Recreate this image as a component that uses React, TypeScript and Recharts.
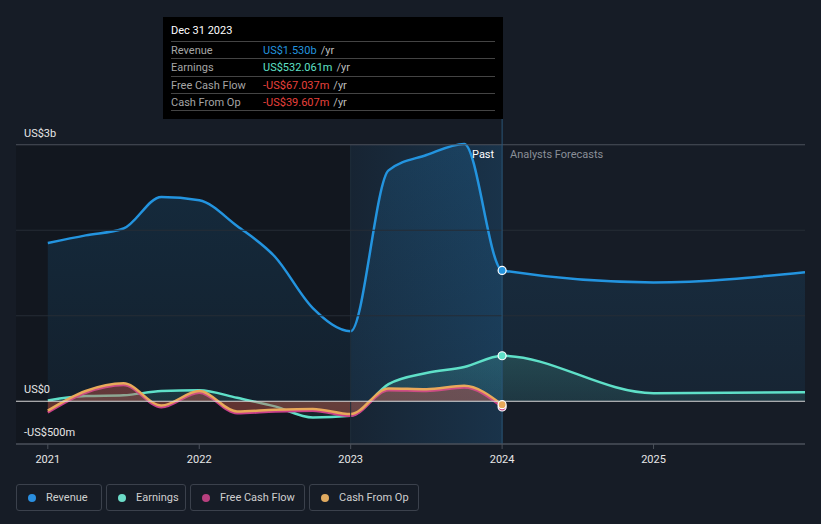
import React from 'react';
import {
  ComposedChart, Area, XAxis, YAxis, ReferenceLine, ReferenceArea,
} from 'recharts';

const periods = [2021, 2021.25, 2021.5, 2021.75, 2022, 2022.25, 2022.5, 2022.75, 2023, 2023.25, 2023.5, 2023.75, 2024, 2025, 2026];
const revenue = [1.85, 1.94, 2.02, 2.39, 2.35, 2.05, 1.69, 1.09, 0.82, 2.70, 2.88, 3.01, 1.53, 1.39, 1.51];
const earnings = [0.01, 0.06, 0.07, 0.12, 0.13, 0.04, -0.06, -0.19, -0.17, 0.2, 0.33, 0.4, 0.532, 0.095, 0.105];
const freeCashFlow = [-0.13, 0.1, 0.19, -0.07, 0.1, -0.14, -0.12, -0.11, -0.17, 0.13, 0.12, 0.16, -0.067, null, null];
const cashFromOp = [-0.11, 0.12, 0.21, -0.05, 0.12, -0.12, -0.1, -0.09, -0.15, 0.15, 0.14, 0.18, -0.04, null, null];

const xTicks = [2021, 2022, 2023, 2024, 2025];
const yLabelValues = [3, 0, -0.5];
const yLabelTexts = ['US$3b', 'US$0', '-US$500m'];

const data = periods.map((p, i) => ({
  x: p,
  revenue: revenue[i],
  earnings: earnings[i],
  fcf: freeCashFlow[i],
  cfo: cashFromOp[i],
}));

const C = {
  bg: '#161c26',
  revenue: '#2394df',
  earnings: '#5fe0c8',
  fcf: '#c9408a',
  cfo: '#e8a95a',
  red: '#e8413c',
};

const FONT = 'Roboto, "Noto Sans", sans-serif';

const makeDot = (color: string) => (props: any) => {
  const { cx, cy, payload, index } = props;
  if (!payload || payload.x !== 2024 || cx == null || cy == null) return <g key={`d${index}`} />;
  return <circle key={`d${index}`} cx={cx} cy={cy} r={4} fill={color} stroke="#ffffff" strokeWidth={1.2} />;
};

const makeYLabel = (text: string) => (props: any) => {
  const vb = props.viewBox || {};
  return (
    <text x={24} y={(vb.y ?? 0) - 8} fill="#e6e6e6" fontSize={11} fontFamily={FONT}>{text}</text>
  );
};

const XTick = (props: any) => {
  const { x, y, payload } = props;
  return (
    <text x={x} y={y + 12} fill="#e6e6e6" fontSize={11} fontFamily={FONT} textAnchor="middle">{payload.value}</text>
  );
};

const rows = [
  { label: 'Revenue', value: 'US$1.530b', color: C.revenue },
  { label: 'Earnings', value: 'US$532.061m', color: C.earnings },
  { label: 'Free Cash Flow', value: '-US$67.037m', color: C.red },
  { label: 'Cash From Op', value: '-US$39.607m', color: C.red },
];

const legendItems = [
  { label: 'Revenue', color: '#2a8fe0', width: 86 },
  { label: 'Earnings', color: '#6cdcc8', width: 80 },
  { label: 'Free Cash Flow', color: '#b8407f', width: 115 },
  { label: 'Cash From Op', color: '#e0aa60', width: 110 },
];

export default function App() {
  return (
    <div style={{ position: 'absolute', left: 0, top: 0, width: 821, height: 524, background: C.bg, fontFamily: FONT, overflow: 'hidden' }}>
      <ComposedChart width={821} height={480} data={data} margin={{ top: 102, right: 16, left: 16, bottom: 6 }}>
        <defs>
          <linearGradient id="pastGrad" x1="0" y1="0" x2="1" y2="0">
            <stop offset="0%" stopColor="#1d4a6e" stopOpacity={0.18} />
            <stop offset="100%" stopColor="#1d4a6e" stopOpacity={0.5} />
          </linearGradient>
          <linearGradient id="revGrad" x1="0" y1="0" x2="0" y2="1">
            <stop offset="0%" stopColor={C.revenue} stopOpacity={0.28} />
            <stop offset="100%" stopColor={C.revenue} stopOpacity={0.12} />
          </linearGradient>
          <linearGradient id="earnGrad" x1="0" y1="0" x2="0" y2="1">
            <stop offset="0%" stopColor={C.earnings} stopOpacity={0.3} />
            <stop offset="100%" stopColor={C.earnings} stopOpacity={0.12} />
          </linearGradient>
        </defs>
        <XAxis
          dataKey="x"
          type="number"
          domain={[2020.79, 2026]}
          ticks={xTicks}
          allowDataOverflow
          height={30}
          axisLine={{ stroke: '#4b515b' }}
          tickLine={{ stroke: '#4b515b' }}
          tickSize={5}
          tick={<XTick />}
          interval={0}
        />
        <YAxis
          type="number"
          domain={[-0.5, 3.5]}
          allowDataOverflow
          hide
        />
        <ReferenceArea x1={2020.79} x2={2023} y1={-0.5} y2={3} fill="#0b0f15" fillOpacity={0.35} stroke="none" ifOverflow="hidden" />
        <ReferenceArea x1={2023} x2={2024} y1={-0.5} y2={3} fill="url(#pastGrad)" fillOpacity={1} stroke="none" />
        <ReferenceLine segment={[{ x: 2023, y: -0.5 }, { x: 2023, y: 3 }]} stroke="#1f2e3c" strokeWidth={1} />
        <ReferenceLine y={1} stroke="#262c36" strokeWidth={1} />
        <ReferenceLine y={2} stroke="#262c36" strokeWidth={1} />
        <ReferenceLine y={yLabelValues[0]} stroke="#4b515b" strokeWidth={1} label={makeYLabel(yLabelTexts[0])} />
        <ReferenceLine y={yLabelValues[2]} stroke="#4b515b" strokeWidth={1} label={makeYLabel(yLabelTexts[2])} />
        <ReferenceLine x={2024} stroke="#2a5678" strokeWidth={1} />
        <Area
          type="monotone"
          dataKey="revenue"
          stroke={C.revenue}
          strokeWidth={2.5}
          fill="url(#revGrad)"
          baseValue={0}
          isAnimationActive={false}
          dot={makeDot(C.revenue)}
          activeDot={false}
        />
        <Area
          type="monotone"
          dataKey="earnings"
          stroke={C.earnings}
          strokeWidth={2.5}
          fill="url(#earnGrad)"
          baseValue={0}
          isAnimationActive={false}
          dot={makeDot(C.earnings)}
          activeDot={false}
        />
        <ReferenceLine y={yLabelValues[1]} stroke="#d8d8d8" strokeWidth={1.2} label={makeYLabel(yLabelTexts[1])} />
        <Area
          type="monotone"
          dataKey="fcf"
          stroke={C.fcf}
          strokeWidth={2.5}
          fill="#c23a46"
          fillOpacity={0.35}
          baseValue={0}
          isAnimationActive={false}
          dot={makeDot(C.fcf)}
          activeDot={false}
        />
        <Area
          type="monotone"
          dataKey="cfo"
          stroke={C.cfo}
          strokeWidth={2.5}
          fill={C.cfo}
          fillOpacity={0.12}
          baseValue={0}
          isAnimationActive={false}
          dot={makeDot(C.cfo)}
          activeDot={false}
        />
      </ComposedChart>

      <div style={{ position: 'absolute', left: 472, top: 148, fontSize: 11, color: '#ffffff' }}>Past</div>
      <div style={{ position: 'absolute', left: 510, top: 148, fontSize: 11, color: '#8a8f98' }}>Analysts Forecasts</div>

      <div style={{ position: 'absolute', left: 163, top: 17, width: 340, height: 102, background: '#000000', boxSizing: 'border-box', padding: '0 8px' }}>
        <div style={{ height: 24, lineHeight: '28px', fontSize: 11, color: '#ffffff' }}>Dec 31 2023</div>
        {rows.map((r) => (
          <div key={r.label} style={{ display: 'flex', height: 17.3, lineHeight: '17px', fontSize: 11, borderTop: '1px solid #444', boxSizing: 'border-box' }}>
            <span style={{ width: 92, color: '#a5a5a5' }}>{r.label}</span>
            <span style={{ color: r.color }}>{r.value}</span>
            <span style={{ color: '#bdbdbd', marginLeft: 4 }}>/yr</span>
          </div>
        ))}
        <div style={{ borderTop: '1px solid #444' }} />
      </div>

      <div style={{ position: 'absolute', left: 16, top: 484, display: 'flex', gap: 4 }}>
        {legendItems.map((it) => (
          <div key={it.label} style={{ width: it.width, height: 27, boxSizing: 'border-box', border: '1px solid #3b414c', borderRadius: 3, display: 'flex', alignItems: 'center', paddingLeft: 11, fontSize: 11, color: '#cfcfcf' }}>
            <span style={{ width: 8, height: 8, borderRadius: 4, background: it.color, marginRight: 10, display: 'inline-block' }} />
            {it.label}
          </div>
        ))}
      </div>
    </div>
  );
}
